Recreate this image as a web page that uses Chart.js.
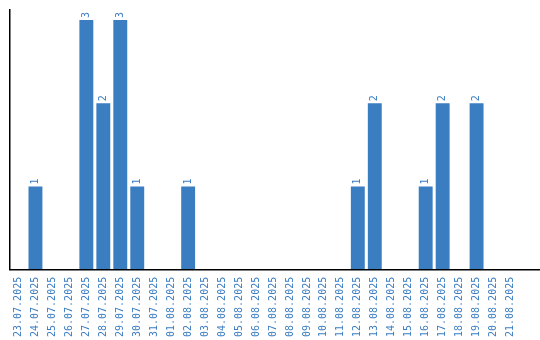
<!DOCTYPE html>
<html>
<head>
<meta charset="utf-8">
<script src="https://cdn.jsdelivr.net/npm/chart.js@4"></script>
<style>
  body { margin: 0; background: #fff; }
  canvas { display: block; }
</style>
</head>
<body>
<canvas id="chart" width="540" height="340"></canvas>
<script>
// Số lượt theo ngày
const dates = ['23.07.2025', '24.07.2025', '25.07.2025', '26.07.2025', '27.07.2025', '28.07.2025',
    '29.07.2025', '30.07.2025', '31.07.2025', '01.08.2025', '02.08.2025', '03.08.2025',
    '04.08.2025', '05.08.2025', '06.08.2025', '07.08.2025', '08.08.2025', '09.08.2025',
    '10.08.2025', '11.08.2025', '12.08.2025', '13.08.2025', '14.08.2025', '15.08.2025',
    '16.08.2025', '17.08.2025', '18.08.2025', '19.08.2025', '20.08.2025', '21.08.2025'];
const counts = [0, 1, 0, 0, 3, 2, 3, 1, 0, 0, 1, 0, 0, 0, 0, 0, 0, 0, 0, 0, 1, 2, 0, 0, 1, 2, 0, 2, 0, 0];

const BLUE = '#3b7dc1';
const FONT = '"DejaVu Sans Mono", monospace';

// Ghi số lên đầu mỗi cột (xoay dọc)
const barLabels = {
    id: 'barLabels',
    afterDatasetsDraw(chart) {
        const ctx = chart.ctx;
        const meta = chart.getDatasetMeta(0);
        ctx.save();
        ctx.font = '10px ' + FONT;
        ctx.fillStyle = BLUE;
        ctx.textAlign = 'left';
        ctx.textBaseline = 'middle';
        meta.data.forEach((bar, i) => {
            const v = counts[i];
            if (!v) return;
            ctx.save();
            ctx.translate(bar.x, bar.y - 2);
            ctx.rotate(-Math.PI / 2);
            ctx.fillText(String(v), 0, 0);
            ctx.restore();
        });
        ctx.restore();
    }
};

// Trục X kéo dài tới mép phải
const xLine = {
    id: 'xLine',
    afterDraw(chart) {
        const ctx = chart.ctx;
        const a = chart.chartArea;
        ctx.save();
        ctx.strokeStyle = '#000';
        ctx.lineWidth = 1.5;
        ctx.beginPath();
        ctx.moveTo(a.left - 1, a.bottom);
        ctx.lineTo(chart.width, a.bottom);
        ctx.stroke();
        ctx.restore();
    }
};

new Chart(document.getElementById('chart'), {
    type: 'bar',
    data: {
        labels: dates,
        datasets: [{
            data: counts,
            backgroundColor: BLUE,
            categoryPercentage: 1,
            barPercentage: 0.82
        }]
    },
    options: {
        responsive: false,
        animation: false,
        layout: { padding: { left: 10, right: 21, top: 10, bottom: -4 } },
        plugins: { legend: { display: false }, tooltip: { enabled: false } },
        scales: {
            x: {
                grid: { display: false, drawTicks: false },
                border: { display: false },
                ticks: {
                    color: BLUE,
                    font: { family: FONT, size: 10 },
                    minRotation: 90,
                    maxRotation: 90,
                    autoSkip: false,
                    padding: 7
                }
            },
            y: {
                min: 0,
                max: 3.12,
                grid: { display: false, drawTicks: false },
                border: { display: true, color: '#000', width: 1.5 },
                ticks: { display: false }
            }
        }
    },
    plugins: [barLabels, xLine]
});
</script>
</body>
</html>
